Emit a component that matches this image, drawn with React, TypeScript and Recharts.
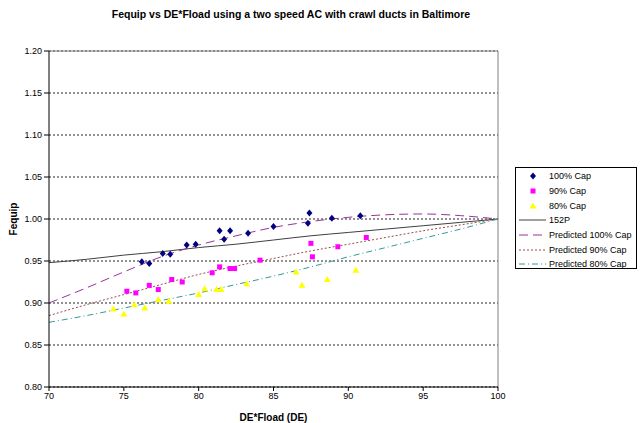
import {
  ComposedChart,
  Scatter,
  Line,
  XAxis,
  YAxis,
  CartesianGrid,
  ReferenceLine,
} from 'recharts';

const FONT = '"Liberation Sans", Arial, sans-serif';

// measured points
const cap100X = [76.2, 76.7, 77.6, 78.1, 79.2, 79.8, 81.4, 81.7, 82.1, 83.3, 85.0, 87.3, 87.4, 88.9, 90.8];
const cap100Y = [0.949, 0.947, 0.959, 0.958, 0.969, 0.970, 0.986, 0.976, 0.986, 0.983, 0.991, 0.995, 1.007, 1.001, 1.004];
const cap90X = [75.2, 75.8, 76.7, 77.3, 78.2, 78.9, 80.9, 81.4, 82.1, 82.4, 84.1, 87.5, 87.6, 89.3, 91.2];
const cap90Y = [0.914, 0.912, 0.921, 0.916, 0.928, 0.925, 0.936, 0.943, 0.941, 0.941, 0.951, 0.971, 0.955, 0.967, 0.978];
const cap80X = [74.3, 75.0, 75.7, 76.4, 77.3, 78.0, 80.0, 80.4, 81.2, 81.5, 83.2, 86.5, 86.9, 88.6, 90.5];
const cap80Y = [0.893, 0.887, 0.898, 0.894, 0.904, 0.902, 0.910, 0.917, 0.916, 0.916, 0.923, 0.937, 0.921, 0.928, 0.939];

// curves
const fitX = [70, 72.5, 75, 77.5, 80, 82.5, 85, 87.5, 90, 92.5, 95, 97.5, 100];
const p152 = [0.948, 0.952, 0.957, 0.961, 0.966, 0.970, 0.975, 0.980, 0.984, 0.988, 0.992, 0.996, 1.0];
const pred100 = [0.900, 0.918, 0.937, 0.955, 0.969, 0.980, 0.990, 0.997, 1.002, 1.005, 1.006, 1.004, 1.0];
const pred90 = [0.885, 0.898, 0.910, 0.922, 0.934, 0.944, 0.953, 0.962, 0.970, 0.978, 0.986, 0.993, 1.0];
const pred80 = [0.877, 0.885, 0.894, 0.903, 0.912, 0.922, 0.932, 0.943, 0.955, 0.966, 0.977, 0.988, 1.0];

const xTicks = [70, 75, 80, 85, 90, 95, 100];
const yTicks = [0.8, 0.85, 0.9, 0.95, 1.0, 1.05, 1.1, 1.15, 1.2];

const zip = (xs: number[], ys: number[]) => xs.map((x, i) => ({ x, y: ys[i] }));

const Diamond = ({ cx, cy }: any) => (
  <polygon points={`${cx},${cy - 3.5} ${cx + 3},${cy} ${cx},${cy + 3.5} ${cx - 3},${cy}`} fill="#000080" />
);
const Square = ({ cx, cy }: any) => (
  <rect x={cx - 2.5} y={cy - 2.5} width={5} height={5} fill="#FF00FF" />
);
const Triangle = ({ cx, cy }: any) => (
  <polygon points={`${cx},${cy - 3.5} ${cx + 3.5},${cy + 2.5} ${cx - 3.5},${cy + 2.5}`} fill="#FFFF00" />
);

const legendRows = [
  { label: '100% Cap', kind: 'diamond' },
  { label: '90% Cap', kind: 'square' },
  { label: '80% Cap', kind: 'triangle' },
  { label: '152P', kind: 'line', color: '#404040', dash: undefined },
  { label: 'Predicted 100% Cap', kind: 'line', color: '#993399', dash: '9 5' },
  { label: 'Predicted 90% Cap', kind: 'line', color: '#994C4C', dash: '2 2' },
  { label: 'Predicted 80% Cap', kind: 'line', color: '#339999', dash: '6 3 1 3' },
];

function LegendBox() {
  return (
    <div
      style={{
        position: 'absolute',
        left: 515,
        top: 167,
        border: '1px solid #000',
        background: '#fff',
        width: 122,
        height: 102,
        boxSizing: 'border-box',
        paddingTop: 1,
        fontFamily: FONT,
        fontSize: 9,
        color: '#000',
      }}
    >
      {legendRows.map((r) => (
        <div key={r.label} style={{ display: 'flex', alignItems: 'center', height: 14.7 }}>
          <svg width={33} height={14} style={{ flex: 'none' }}>
            {r.kind === 'diamond' && <Diamond cx={17} cy={7} />}
            {r.kind === 'square' && <Square cx={17} cy={7} />}
            {r.kind === 'triangle' && <Triangle cx={17} cy={7} />}
            {r.kind === 'line' && (
              <line x1={3} x2={30} y1={7} y2={7} stroke={r.color} strokeWidth={1} strokeDasharray={r.dash} />
            )}
          </svg>
          <span style={{ whiteSpace: 'nowrap' }}>{r.label}</span>
        </div>
      ))}
    </div>
  );
}

export default function App() {
  const tick = { fill: '#000', fontSize: 9, fontFamily: FONT };
  return (
    <div style={{ position: 'absolute', left: 0, top: 0, width: 640, height: 423, background: '#fff' }}>
      <div
        style={{
          position: 'absolute',
          top: 8,
          left: 0,
          width: 582,
          textAlign: 'center',
          fontFamily: FONT,
          fontWeight: 'bold',
          fontSize: 10.5,
          color: '#000',
        }}
      >
        Fequip vs DE*Fload using a two speed AC with crawl ducts in Baltimore
      </div>
      <ComposedChart width={640} height={423} margin={{ top: 51, right: 142, bottom: 0, left: 0 }}>
        <CartesianGrid horizontal vertical={false} stroke="#222" strokeDasharray="2 2" />
        <XAxis
          type="number"
          dataKey="x"
          domain={[70, 100]}
          ticks={xTicks}
          allowDataOverflow
          height={36}
          stroke="#000"
          tickSize={4}
          tick={tick}
          label={{ value: 'DE*Fload (DE)', position: 'insideBottom', offset: 2, style: { fontFamily: FONT, fontSize: 10, fontWeight: 'bold', fill: '#000' } }}
        />
        <YAxis
          type="number"
          dataKey="y"
          domain={[0.8, 1.2]}
          ticks={yTicks}
          allowDataOverflow
          width={49}
          stroke="#000"
          tickSize={5}
          tick={tick}
          tickFormatter={(v: number) => v.toFixed(2)}
          label={{ value: 'Fequip', angle: -90, position: 'insideLeft', offset: 13, style: { fontFamily: FONT, fontSize: 10, fontWeight: 'bold', fill: '#000', textAnchor: 'middle' } }}
        />
        <ReferenceLine y={1.2} stroke="#808080" />
        <ReferenceLine x={100} stroke="#808080" />
        <Line data={zip(fitX, p152)} dataKey="y" type="monotone" stroke="#404040" strokeWidth={1} dot={false} isAnimationActive={false} />
        <Line data={zip(fitX, pred100)} dataKey="y" type="monotone" stroke="#993399" strokeWidth={1} strokeDasharray="9 5" dot={false} isAnimationActive={false} />
        <Line data={zip(fitX, pred90)} dataKey="y" type="monotone" stroke="#994C4C" strokeWidth={1} strokeDasharray="2 2" dot={false} isAnimationActive={false} />
        <Line data={zip(fitX, pred80)} dataKey="y" type="monotone" stroke="#339999" strokeWidth={1} strokeDasharray="6 3 1 3" dot={false} isAnimationActive={false} />
        <Scatter data={zip(cap100X, cap100Y)} shape={<Diamond />} isAnimationActive={false} />
        <Scatter data={zip(cap90X, cap90Y)} shape={<Square />} isAnimationActive={false} />
        <Scatter data={zip(cap80X, cap80Y)} shape={<Triangle />} isAnimationActive={false} />
      </ComposedChart>
      <LegendBox />
    </div>
  );
}
